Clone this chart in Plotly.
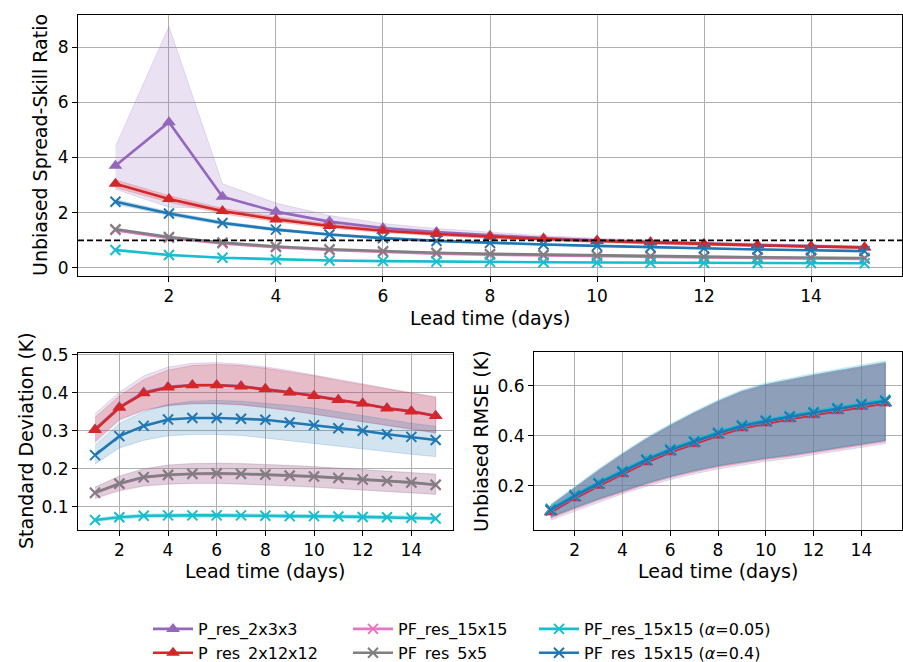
import plotly.graph_objects as go

# ---------------- data ----------------
days = list(range(1, 16))

# Unbiased spread-skill ratio (top panel)
ssr_p3 = [3.70, 5.28, 2.58, 2.04, 1.68, 1.45, 1.30, 1.18, 1.08, 1.00, 0.94, 0.88, 0.83, 0.79, 0.75]
ssr_p3_lo = [2.85, 2.20, 2.15, 1.76, 1.50, 1.31, 1.18, 1.08, 0.99, 0.92, 0.86, 0.81, 0.77, 0.73, 0.70]
ssr_p3_hi = [4.40, 8.75, 3.05, 2.35, 1.90, 1.61, 1.43, 1.29, 1.17, 1.08, 1.01, 0.95, 0.89, 0.85, 0.80]
ssr_p12 = [3.05, 2.50, 2.06, 1.76, 1.52, 1.35, 1.23, 1.13, 1.05, 0.98, 0.92, 0.87, 0.82, 0.78, 0.74]
ssr_p12_lo = [2.91, 2.38, 1.96, 1.67, 1.44, 1.28, 1.17, 1.07, 1.00, 0.93, 0.87, 0.82, 0.78, 0.74, 0.70]
ssr_p12_hi = [3.19, 2.62, 2.16, 1.85, 1.60, 1.42, 1.29, 1.19, 1.10, 1.03, 0.97, 0.92, 0.86, 0.82, 0.78]
ssr_pf15 = [1.37, 1.09, 0.89, 0.75, 0.65, 0.58, 0.52, 0.48, 0.45, 0.42, 0.40, 0.38, 0.36, 0.34, 0.33]
ssr_pf15_lo = [1.32, 1.05, 0.86, 0.72, 0.63, 0.56, 0.50, 0.46, 0.43, 0.40, 0.38, 0.36, 0.34, 0.33, 0.31]
ssr_pf15_hi = [1.42, 1.13, 0.92, 0.78, 0.67, 0.60, 0.54, 0.50, 0.47, 0.44, 0.42, 0.40, 0.38, 0.36, 0.35]
ssr_pf5 = [1.40, 1.12, 0.92, 0.78, 0.68, 0.61, 0.55, 0.51, 0.48, 0.45, 0.43, 0.41, 0.39, 0.37, 0.36]
ssr_pf5_lo = [1.35, 1.08, 0.89, 0.75, 0.66, 0.59, 0.53, 0.49, 0.46, 0.43, 0.41, 0.39, 0.37, 0.36, 0.34]
ssr_pf5_hi = [1.45, 1.16, 0.95, 0.81, 0.70, 0.63, 0.57, 0.53, 0.50, 0.47, 0.45, 0.43, 0.41, 0.39, 0.38]
ssr_a05 = [0.65, 0.47, 0.37, 0.31, 0.27, 0.25, 0.23, 0.22, 0.21, 0.20, 0.19, 0.19, 0.18, 0.18, 0.17]
ssr_a05_lo = [0.61, 0.44, 0.35, 0.29, 0.26, 0.24, 0.22, 0.21, 0.20, 0.19, 0.18, 0.18, 0.17, 0.17, 0.16]
ssr_a05_hi = [0.69, 0.50, 0.39, 0.33, 0.28, 0.26, 0.24, 0.23, 0.22, 0.21, 0.20, 0.20, 0.19, 0.19, 0.18]
ssr_a4 = [2.40, 1.97, 1.63, 1.39, 1.21, 1.08, 0.98, 0.91, 0.85, 0.80, 0.75, 0.71, 0.67, 0.64, 0.61]
ssr_a4_lo = [2.32, 1.90, 1.57, 1.34, 1.17, 1.04, 0.95, 0.88, 0.82, 0.77, 0.73, 0.69, 0.65, 0.62, 0.59]
ssr_a4_hi = [2.48, 2.04, 1.69, 1.44, 1.25, 1.12, 1.01, 0.94, 0.88, 0.83, 0.77, 0.73, 0.69, 0.66, 0.63]

# Standard deviation (bottom-left)
sd_p3 = [0.304, 0.363, 0.401, 0.416, 0.421, 0.421, 0.418, 0.411, 0.402, 0.393, 0.382, 0.373, 0.360, 0.352, 0.340]
sd_p3_lo = [0.268, 0.327, 0.353, 0.366, 0.371, 0.371, 0.368, 0.361, 0.353, 0.344, 0.334, 0.324, 0.314, 0.304, 0.294]
sd_p3_hi = [0.345, 0.402, 0.445, 0.468, 0.478, 0.480, 0.476, 0.469, 0.459, 0.448, 0.436, 0.424, 0.412, 0.401, 0.390]
sd_p12 = [0.302, 0.361, 0.399, 0.414, 0.420, 0.420, 0.417, 0.410, 0.401, 0.392, 0.381, 0.372, 0.359, 0.351, 0.339]
sd_p12_lo = [0.272, 0.330, 0.355, 0.367, 0.372, 0.372, 0.369, 0.362, 0.354, 0.345, 0.335, 0.325, 0.315, 0.305, 0.295]
sd_p12_hi = [0.335, 0.392, 0.435, 0.460, 0.472, 0.475, 0.472, 0.465, 0.455, 0.445, 0.433, 0.421, 0.410, 0.399, 0.388]
sd_pf15 = [0.136, 0.160, 0.177, 0.183, 0.186, 0.187, 0.186, 0.184, 0.181, 0.179, 0.175, 0.171, 0.167, 0.163, 0.157]
sd_pf15_lo = [0.121, 0.141, 0.154, 0.159, 0.161, 0.161, 0.159, 0.157, 0.154, 0.151, 0.147, 0.144, 0.140, 0.136, 0.132]
sd_pf15_hi = [0.151, 0.180, 0.199, 0.209, 0.213, 0.214, 0.213, 0.211, 0.208, 0.205, 0.201, 0.197, 0.193, 0.189, 0.185]
sd_pf5 = [0.137, 0.161, 0.178, 0.184, 0.187, 0.188, 0.187, 0.185, 0.182, 0.180, 0.176, 0.172, 0.168, 0.164, 0.158]
sd_pf5_lo = [0.123, 0.143, 0.155, 0.160, 0.162, 0.162, 0.160, 0.158, 0.155, 0.152, 0.148, 0.145, 0.141, 0.137, 0.133]
sd_pf5_hi = [0.152, 0.181, 0.200, 0.210, 0.214, 0.215, 0.214, 0.212, 0.209, 0.206, 0.202, 0.198, 0.194, 0.190, 0.186]
sd_a05 = [0.065, 0.072, 0.076, 0.077, 0.077, 0.077, 0.077, 0.076, 0.075, 0.075, 0.074, 0.073, 0.072, 0.071, 0.069]
sd_a05_lo = [0.061, 0.067, 0.071, 0.072, 0.072, 0.072, 0.072, 0.071, 0.070, 0.070, 0.069, 0.068, 0.067, 0.066, 0.064]
sd_a05_hi = [0.069, 0.077, 0.081, 0.082, 0.082, 0.082, 0.082, 0.081, 0.080, 0.080, 0.079, 0.078, 0.077, 0.076, 0.074]
sd_a4 = [0.236, 0.286, 0.313, 0.330, 0.334, 0.334, 0.332, 0.329, 0.322, 0.315, 0.307, 0.300, 0.291, 0.284, 0.276]
sd_a4_lo = [0.212, 0.255, 0.275, 0.287, 0.290, 0.290, 0.288, 0.282, 0.275, 0.268, 0.260, 0.252, 0.245, 0.238, 0.232]
sd_a4_hi = [0.262, 0.320, 0.350, 0.370, 0.378, 0.380, 0.378, 0.373, 0.367, 0.360, 0.350, 0.340, 0.330, 0.320, 0.312]

# Unbiased RMSE (bottom-right)
rm_p3 = [0.093, 0.149, 0.199, 0.246, 0.293, 0.333, 0.366, 0.400, 0.429, 0.449, 0.466, 0.482, 0.498, 0.515, 0.529]
rm_p3_lo = [0.062, 0.098, 0.133, 0.167, 0.197, 0.224, 0.247, 0.267, 0.283, 0.297, 0.309, 0.323, 0.337, 0.353, 0.368]
rm_p3_hi = [0.115, 0.185, 0.255, 0.320, 0.381, 0.435, 0.485, 0.531, 0.571, 0.598, 0.618, 0.636, 0.653, 0.671, 0.686]
rm_p12 = [0.096, 0.151, 0.201, 0.248, 0.295, 0.335, 0.368, 0.402, 0.431, 0.451, 0.468, 0.484, 0.500, 0.517, 0.531]
rm_p12_lo = [0.070, 0.107, 0.142, 0.175, 0.205, 0.232, 0.255, 0.275, 0.291, 0.305, 0.317, 0.331, 0.345, 0.361, 0.376]
rm_p12_hi = [0.118, 0.188, 0.258, 0.323, 0.384, 0.438, 0.488, 0.534, 0.574, 0.601, 0.621, 0.639, 0.656, 0.674, 0.689]
rm_pf15 = [0.101, 0.157, 0.207, 0.254, 0.301, 0.341, 0.374, 0.408, 0.437, 0.457, 0.474, 0.490, 0.506, 0.523, 0.537]
rm_pf15_lo = [0.074, 0.111, 0.146, 0.179, 0.209, 0.236, 0.259, 0.279, 0.295, 0.309, 0.321, 0.335, 0.349, 0.365, 0.380]
rm_pf15_hi = [0.121, 0.191, 0.261, 0.326, 0.387, 0.441, 0.491, 0.537, 0.577, 0.604, 0.624, 0.642, 0.659, 0.677, 0.692]
rm_pf5 = [0.102, 0.158, 0.208, 0.255, 0.302, 0.342, 0.375, 0.409, 0.438, 0.458, 0.475, 0.491, 0.507, 0.524, 0.538]
rm_pf5_lo = [0.075, 0.112, 0.147, 0.180, 0.210, 0.237, 0.260, 0.280, 0.296, 0.310, 0.322, 0.336, 0.350, 0.366, 0.381]
rm_pf5_hi = [0.122, 0.192, 0.262, 0.327, 0.388, 0.442, 0.492, 0.538, 0.578, 0.605, 0.625, 0.643, 0.660, 0.678, 0.693]
rm_a05 = [0.108, 0.164, 0.214, 0.261, 0.308, 0.348, 0.381, 0.415, 0.444, 0.464, 0.481, 0.497, 0.513, 0.530, 0.544]
rm_a05_lo = [0.077, 0.114, 0.149, 0.182, 0.212, 0.239, 0.262, 0.282, 0.298, 0.312, 0.324, 0.338, 0.352, 0.368, 0.383]
rm_a05_hi = [0.126, 0.197, 0.267, 0.332, 0.393, 0.447, 0.497, 0.543, 0.583, 0.611, 0.631, 0.649, 0.666, 0.684, 0.700]
rm_a4 = [0.103, 0.159, 0.209, 0.256, 0.303, 0.343, 0.376, 0.410, 0.439, 0.459, 0.476, 0.492, 0.508, 0.525, 0.539]
rm_a4_lo = [0.075, 0.112, 0.147, 0.180, 0.210, 0.237, 0.260, 0.280, 0.296, 0.310, 0.322, 0.336, 0.350, 0.366, 0.381]
rm_a4_hi = [0.122, 0.192, 0.262, 0.327, 0.388, 0.442, 0.492, 0.538, 0.578, 0.605, 0.625, 0.643, 0.660, 0.678, 0.693]

names = ["P_res_2x3x3", "P_res_2x12x12", "PF_res_15x15", "PF_res_5x5",
         "PF_res_15x15 (<i>α</i>=0.05)", "PF_res_15x15 (<i>α</i>=0.4)"]
colors = ["#9467bd", "#d62728", "#e377c2", "#7f7f7f", "#17becf", "#1f77b4"]
symbols = ["triangle-up", "triangle-up", "x-thin", "x-thin", "x-thin", "x-thin"]
legend_ids = ["legend", "legend", "legend2", "legend2", "legend3", "legend3"]

panels = [
    ("x", "y", [(ssr_p3, ssr_p3_lo, ssr_p3_hi), (ssr_p12, ssr_p12_lo, ssr_p12_hi),
                (ssr_pf15, ssr_pf15_lo, ssr_pf15_hi), (ssr_pf5, ssr_pf5_lo, ssr_pf5_hi),
                (ssr_a05, ssr_a05_lo, ssr_a05_hi), (ssr_a4, ssr_a4_lo, ssr_a4_hi)]),
    ("x2", "y2", [(sd_p3, sd_p3_lo, sd_p3_hi), (sd_p12, sd_p12_lo, sd_p12_hi),
                  (sd_pf15, sd_pf15_lo, sd_pf15_hi), (sd_pf5, sd_pf5_lo, sd_pf5_hi),
                  (sd_a05, sd_a05_lo, sd_a05_hi), (sd_a4, sd_a4_lo, sd_a4_hi)]),
    ("x3", "y3", [(rm_p3, rm_p3_lo, rm_p3_hi), (rm_p12, rm_p12_lo, rm_p12_hi),
                  (rm_pf15, rm_pf15_lo, rm_pf15_hi), (rm_pf5, rm_pf5_lo, rm_pf5_hi),
                  (rm_a05, rm_a05_lo, rm_a05_hi), (rm_a4, rm_a4_lo, rm_a4_hi)]),
]


def rgba(hexc, a):
    h = hexc.lstrip("#")
    r, g, b = int(h[0:2], 16), int(h[2:4], 16), int(h[4:6], 16)
    return f"rgba({r},{g},{b},{a})"


fig = go.Figure()

# bands first (below lines)
for xa, ya, series in panels:
    for i, (m, lo, hi) in enumerate(series):
        fig.add_trace(go.Scatter(
            x=days + days[::-1], y=hi + lo[::-1], xaxis=xa, yaxis=ya,
            mode="lines", fill="toself", fillcolor=rgba(colors[i], 0.2),
            line=dict(color=rgba(colors[i], 0.2), width=1),
            showlegend=False, hoverinfo="skip"))

# lines
for p, (xa, ya, series) in enumerate(panels):
    for i, (m, lo, hi) in enumerate(series):
        tri = symbols[i] == "triangle-up"
        fig.add_trace(go.Scatter(
            x=days, y=m, xaxis=xa, yaxis=ya, mode="lines+markers",
            name=names[i], legend=legend_ids[i], showlegend=(p == 0),
            line=dict(color=colors[i], width=2.6),
            marker=dict(symbol=symbols[i], size=12 if tri else 10, color=colors[i],
                        line=dict(color=colors[i], width=2 if not tri else 0))))

FONT = "DejaVu Sans"
W, H = 903, 662


def px(v, total):
    return v / total


axis_common = dict(
    showline=True, mirror=True, linecolor="black", linewidth=1,
    showgrid=True, gridcolor="#b0b0b0", gridwidth=1, zeroline=False,
    ticks="outside", ticklen=5, tickwidth=1, tickcolor="black",
    tickfont=dict(family=FONT, size=17, color="black"), automargin=False,
)

fig.update_layout(
    width=W, height=H,
    margin=dict(l=0, r=0, t=0, b=0, autoexpand=False),
    paper_bgcolor="white", plot_bgcolor="white",
    font=dict(family=FONT, color="black"),
    xaxis=dict(domain=[px(78, W), px(902, W)], range=[0.3, 15.7], anchor="y",
               tick0=2, dtick=2, **axis_common),
    yaxis=dict(domain=[1 - px(276, H), 1 - px(15, H)], range=[-0.29, 9.16], anchor="x",
               tick0=0, dtick=2, **axis_common),
    xaxis2=dict(domain=[px(78, W), px(452.7, W)], range=[0.3, 15.7], anchor="y2",
                tick0=2, dtick=2, **axis_common),
    yaxis2=dict(domain=[1 - px(530, H), 1 - px(352.7, H)], range=[0.0385, 0.506], anchor="x2",
                tick0=0.1, dtick=0.1, **axis_common),
    xaxis3=dict(domain=[px(534, W), px(902, W)], range=[0.3, 15.7], anchor="y3",
                tick0=2, dtick=2, **axis_common),
    yaxis3=dict(domain=[1 - px(530, H), 1 - px(351.7, H)], range=[0.023, 0.736], anchor="x3",
                tick0=0.2, dtick=0.2, **axis_common),
    showlegend=True,
)

leg_common = dict(font=dict(family=FONT, size=16, color="black"), bgcolor="rgba(0,0,0,0)",
                  xanchor="left", yanchor="top", itemwidth=40, tracegroupgap=0)
fig.update_layout(
    legend=dict(x=px(148, W), y=1 - px(612, H), **leg_common),
    legend2=dict(x=px(348, W), y=1 - px(612, H), **leg_common),
    legend3=dict(x=px(534, W), y=1 - px(612, H), **leg_common),
)

# reference line at 1
fig.add_shape(type="line", xref="x domain", yref="y", x0=0, x1=1, y0=1, y1=1,
              line=dict(color="black", width=1.8, dash="6px,3px"), layer="above")

# axis titles
tfont = dict(family=FONT, size=19, color="black")
titles = [
    ("Unbiased Spread-Skill Ratio", 40, 145, -90),
    ("Lead time (days)", 490, 318, 0),
    ("Standard Deviation (K)", 26, 441, -90),
    ("Lead time (days)", 265, 571, 0),
    ("Unbiased RMSE (K)", 481, 441, -90),
    ("Lead time (days)", 718, 571, 0),
]
for t, xx, yy, ang in titles:
    fig.add_annotation(text=t, xref="paper", yref="paper", x=px(xx, W), y=1 - px(yy, H),
                       showarrow=False, textangle=ang, font=tfont,
                       xanchor="center", yanchor="middle")

fig.write_html("out.html", config={"displayModeBar": False},
               post_script="document.body.style.margin='0';document.body.style.overflow='hidden';")
